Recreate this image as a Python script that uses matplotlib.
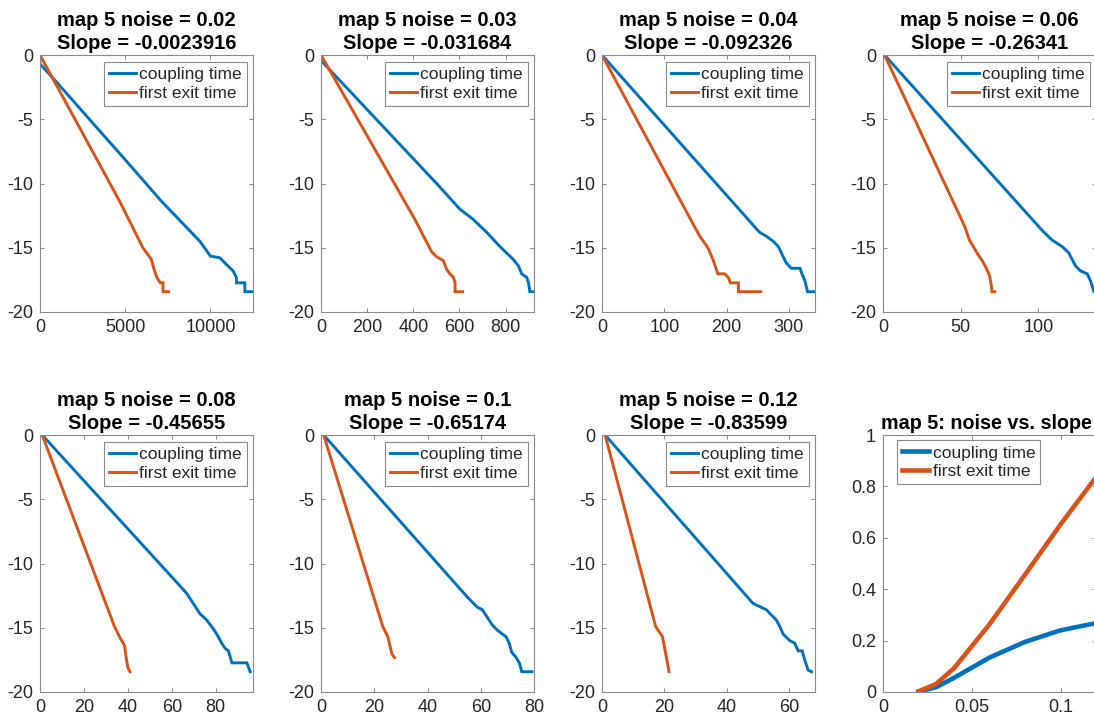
import matplotlib
matplotlib.use("Agg")
import matplotlib.pyplot as plt
from matplotlib.ticker import FuncFormatter

plt.rcParams['font.family'] = ['Liberation Sans', 'DejaVu Sans']
plt.rcParams['axes.unicode_minus'] = False

BLUE = '#0072BD'
ORANGE = '#D95319'

noise = [0.02, 0.03, 0.04, 0.06, 0.08, 0.1, 0.12]
slope_exit = [0.0023916, 0.031684, 0.092326, 0.26341, 0.45655, 0.65174, 0.83599]
slope_coupling = [0.0015, 0.019, 0.055, 0.134, 0.195, 0.240, 0.268]
xlims = [12500, 923, 342, 137, 97, 80, 68.3]
xticks = [[0, 5000, 10000], [0, 200, 400, 600, 800], [0, 100, 200, 300],
          [0, 50, 100], [0, 20, 40, 60, 80], [0, 20, 40, 60, 80], [0, 20, 40, 60]]

# noise 0.02
c1_x = [0, 0, 900, 5000, 7120, 9370, 10000, 10550, 10940, 11330, 11530, 11530, 12020, 12020, 12500]
c1_y = [0, -0.7, -2.0, -8.15, -11.37, -14.48, -15.65, -15.78, -16.3, -16.8, -17.32, -17.73, -17.73, -18.42, -18.42]
e1_x = [0, 4670, 6040, 6530, 6725, 6860, 7060, 7220, 7220, 7550]
e1_y = [0, -11.37, -15.0, -15.9, -16.8, -17.32, -17.73, -17.73, -18.42, -18.42]
# noise 0.03
c2_x = [0, 4, 501, 602, 660, 718, 775, 804, 833, 855, 870, 892, 899, 905, 923]
c2_y = [0, -0.5, -10.0, -12.0, -12.8, -13.8, -14.9, -15.4, -15.9, -16.4, -17.03, -17.32, -17.73, -18.42, -18.42]
e2_x = [0, 407, 479, 501, 530, 545, 559, 574, 581, 581, 614]
e2_y = [0, -12.8, -15.3, -15.7, -16.0, -16.7, -17.03, -17.32, -17.73, -18.42, -18.42]
# noise 0.04
c3_x = [0, 253, 264, 275, 283, 289, 296, 304, 318, 321, 326, 330, 342]
c3_y = [0, -13.8, -14.1, -14.5, -14.9, -15.5, -16.2, -16.6, -16.6, -17.03, -17.6, -18.42, -18.42]
e3_x = [0, 149, 157, 170, 178, 186, 197, 203, 206, 219, 219, 255]
e3_y = [0, -13.4, -14.1, -15.0, -15.9, -17.03, -17.03, -17.32, -17.73, -17.73, -18.42, -18.42]
# noise 0.06
c4_x = [1, 102, 108.7, 115.2, 119.5, 121.6, 123.8, 127, 131.4, 133.5, 135.7, 137.2]
c4_y = [0, -13.6, -14.4, -14.9, -15.4, -15.9, -16.4, -16.8, -17.03, -17.6, -18.42, -18.42]
e4_x = [1, 52.4, 55.6, 61, 64.3, 66.5, 68.6, 69.7, 70.1, 71.9]
e4_y = [0, -13.3, -14.4, -15.5, -16.1, -16.6, -17.2, -18.0, -18.42, -18.42]
# noise 0.08
c5_x = [1, 66.7, 72.8, 75.9, 79, 81.2, 82.7, 84.3, 85.8, 87.4, 94.2, 95.7]
c5_y = [0, -12.3, -13.9, -14.4, -15.1, -15.7, -16.2, -16.6, -16.8, -17.73, -17.73, -18.42]
e5_x = [1, 33.9, 36.2, 38.5, 39.2, 40, 41]
e5_y = [0, -14.9, -15.7, -16.4, -17.3, -18.1, -18.42]
# noise 0.1
c6_x = [1, 54.9, 58.7, 60.6, 62.5, 64.4, 66.3, 69.5, 70.7, 71.6, 73.3, 74.5, 75.4, 79.2]
c6_y = [0, -12.6, -13.4, -13.6, -14.2, -14.8, -15.2, -15.7, -16.2, -16.9, -17.32, -17.73, -18.42, -18.42]
e6_x = [1, 23.2, 25.1, 26, 26.6, 27.6]
e6_y = [0, -14.9, -15.7, -16.5, -17.03, -17.32]
# noise 0.12
c7_x = [1, 48.4, 52.7, 55.9, 57, 58.1, 60.2, 61.8, 62.9, 64.2, 65, 66.1, 67.2]
c7_y = [0, -13.1, -13.6, -14.4, -14.9, -15.5, -16.0, -16.2, -16.8, -16.8, -17.5, -18.3, -18.42]
e7_x = [1, 17.2, 19.4, 20.4, 21.5]
e7_y = [0, -14.9, -15.7, -17.0, -18.42]

coupling = [(c1_x, c1_y), (c2_x, c2_y), (c3_x, c3_y), (c4_x, c4_y),
            (c5_x, c5_y), (c6_x, c6_y), (c7_x, c7_y)]
exits = [(e1_x, e1_y), (e2_x, e2_y), (e3_x, e3_y), (e4_x, e4_y),
         (e5_x, e5_y), (e6_x, e6_y), (e7_x, e7_y)]

W, H = 1094, 721
fig = plt.figure(figsize=(W / 100, H / 100), dpi=100)

lefts = [40, 321, 602, 883]
tops = [55, 435]
aw, ah = 213, 257

SPINE = '#8a8a8a'
TXT = '#262626'


def make_ax(r, c):
    l = lefts[c]
    t = tops[r]
    ax = fig.add_axes([l / W, 1 - (t + ah) / H, aw / W, ah / H])
    for s in ax.spines.values():
        s.set_color(SPINE)
        s.set_linewidth(0.8)
    ax.tick_params(direction='in', length=3, width=0.7, color=SPINE,
                   top=True, right=True, labelsize=13, labelcolor=TXT, pad=5)
    return ax


def style_legend(ax, **kw):
    leg = ax.legend(borderaxespad=0, fontsize=12.5, handlelength=1.55,
                    handletextpad=0.2, borderpad=0.3, labelspacing=0.2,
                    fancybox=False, framealpha=1, **kw)
    leg.get_frame().set_edgecolor(SPINE)
    leg.get_frame().set_linewidth(0.8)
    for t in leg.get_texts():
        t.set_color(TXT)
    return leg


fmt = FuncFormatter(lambda v, p: '%g' % v)

for i in range(7):
    r, c = divmod(i, 4)
    ax = make_ax(r, c)
    ax.plot(coupling[i][0], coupling[i][1], color=BLUE, lw=2.1, label='coupling time',
            solid_joinstyle='miter')
    ax.plot(exits[i][0], exits[i][1], color=ORANGE, lw=2.1, label='first exit time',
            solid_joinstyle='miter')
    ax.set_xlim(0, xlims[i])
    ax.set_ylim(-20, 0)
    ax.set_yticks([-20, -15, -10, -5, 0])
    ax.set_xticks(xticks[i])
    ax.xaxis.set_major_formatter(fmt)
    ax.yaxis.set_major_formatter(fmt)
    ax.set_title('map 5 noise = %g\nSlope = %g' % (noise[i], -slope_exit[i]),
                 fontsize=14.5, fontweight='bold', pad=4, linespacing=1.3)
    style_legend(ax, loc='upper right', bbox_to_anchor=(0.972, 0.973))

ax = make_ax(1, 3)
ax.plot(noise, slope_coupling, color=BLUE, lw=3.3, label='coupling time')
ax.plot(noise, slope_exit, color=ORANGE, lw=3.3, label='first exit time')
ax.set_xlim(0, 0.12)
ax.set_ylim(0, 1)
ax.set_xticks([0, 0.05, 0.1])
ax.set_yticks([0, 0.2, 0.4, 0.6, 0.8, 1])
ax.xaxis.set_major_formatter(fmt)
ax.yaxis.set_major_formatter(fmt)
ax.set_title('map 5: noise vs. slope', fontsize=14.2, fontweight='bold', pad=4, x=0.485)
style_legend(ax, loc='upper left', bbox_to_anchor=(0.066, 0.98))

fig.savefig('out.png', dpi=100)
